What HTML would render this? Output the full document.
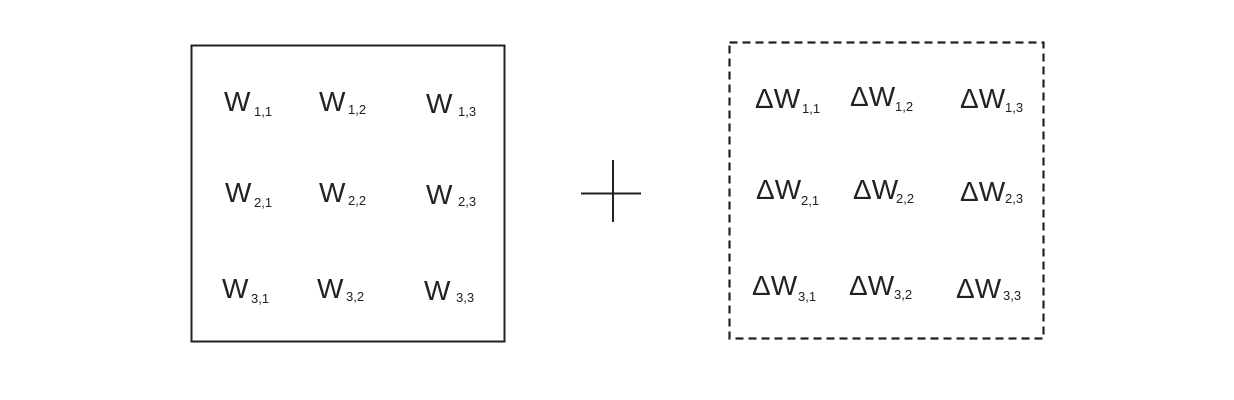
<!DOCTYPE html>
<html><head><style>html,body{margin:0;padding:0;background:#fff}svg{display:block}</style></head>
<body>
<svg width="1234" height="400" xmlns="http://www.w3.org/2000/svg" font-family="Liberation Sans, sans-serif" fill="#222">
<rect x="191.5" y="45.5" width="313" height="296" fill="none" stroke="#222" stroke-width="2"/>
<rect x="729.5" y="42.5" width="314" height="296" fill="none" stroke="#222" stroke-width="2.2" stroke-dasharray="8,5"/>
<line x1="581" y1="193.5" x2="641" y2="193.5" stroke="#222" stroke-width="2"/>
<line x1="613" y1="160" x2="613" y2="222" stroke="#222" stroke-width="2"/>
<g font-size="28">
<text x="224" y="111">W</text><text x="319" y="111">W</text><text x="426" y="113">W</text>
<text x="225" y="202">W</text><text x="319" y="202">W</text><text x="426" y="204">W</text>
<text x="222" y="298">W</text><text x="317" y="298">W</text><text x="424" y="300">W</text>
<text x="755" y="108">ΔW</text><text x="850" y="106">ΔW</text><text x="960" y="108">ΔW</text>
<text x="756" y="199">ΔW</text><text x="853" y="199">ΔW</text><text x="960" y="201">ΔW</text>
<text x="752" y="295">ΔW</text><text x="849" y="295">ΔW</text><text x="956" y="298">ΔW</text>
</g>
<g font-size="13">
<text x="254" y="116">1,1</text><text x="348" y="114">1,2</text><text x="458" y="116">1,3</text>
<text x="254" y="207">2,1</text><text x="348" y="205">2,2</text><text x="458" y="206">2,3</text>
<text x="251" y="303">3,1</text><text x="346" y="301">3,2</text><text x="456" y="302">3,3</text>
<text x="802" y="113">1,1</text><text x="895" y="111">1,2</text><text x="1005" y="112">1,3</text>
<text x="801" y="205">2,1</text><text x="896" y="203">2,2</text><text x="1005" y="203">2,3</text>
<text x="798" y="301">3,1</text><text x="894" y="299">3,2</text><text x="1003" y="300">3,3</text>
</g>
</svg>
</body></html>
